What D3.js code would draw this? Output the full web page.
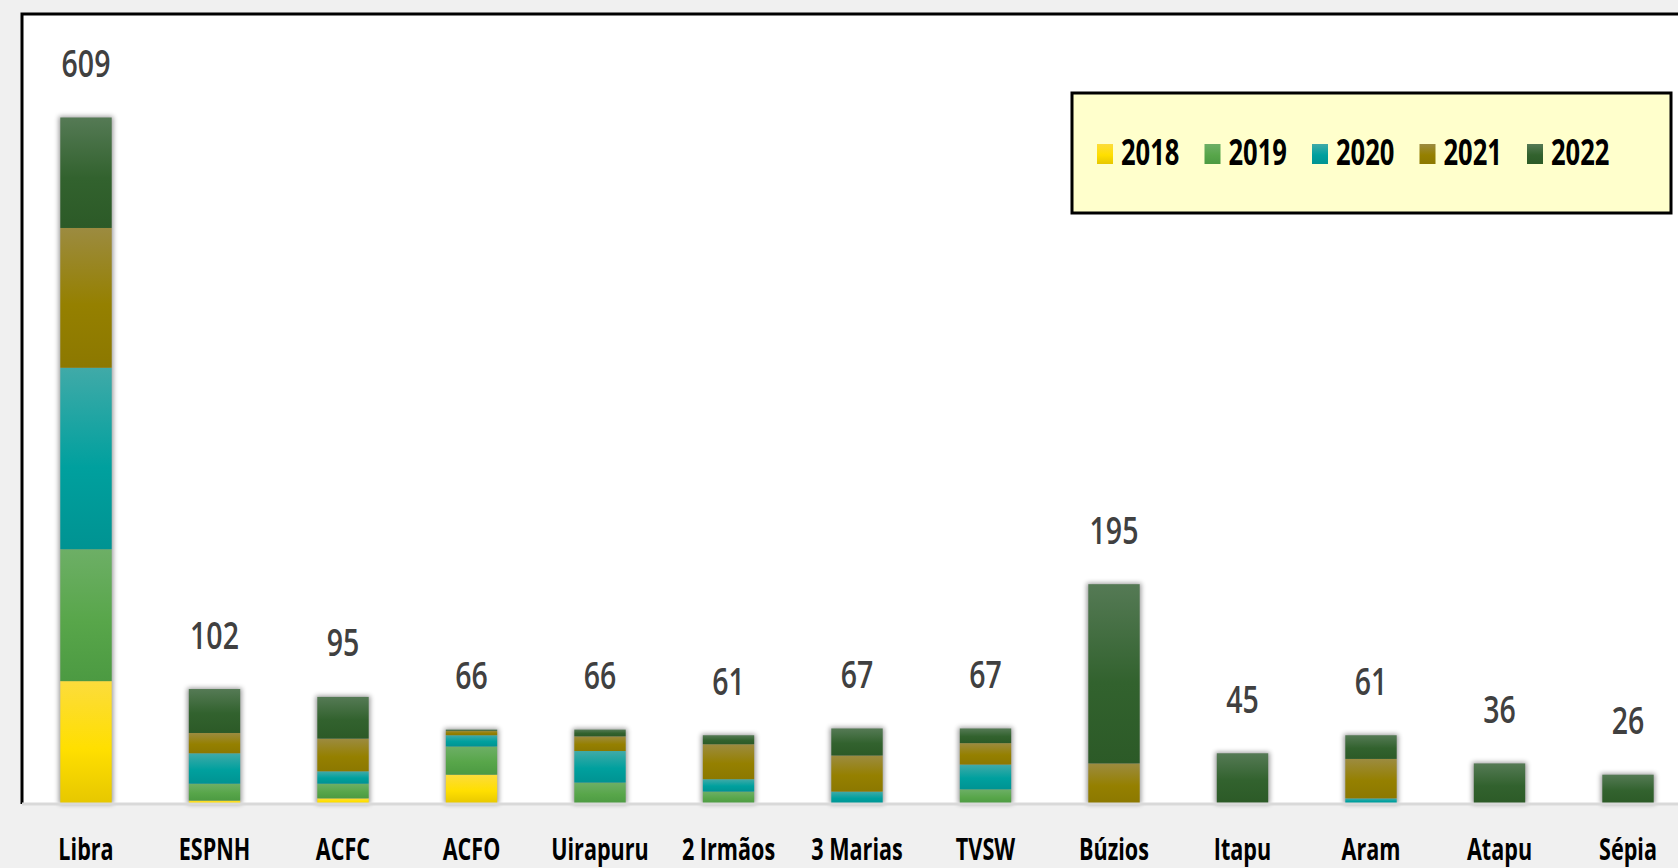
<!DOCTYPE html>
<html>
<head>
<meta charset="utf-8">
<script src="https://cdn.jsdelivr.net/npm/d3@7"></script>
<style>
html, body { margin: 0; padding: 0; background: #f0f0f0; overflow: hidden; }
text { font-family: "Open Sans", "Noto Sans", sans-serif; }
</style>
</head>
<body>
<div id="chart"></div>
<script>
// fields (x categories) and yearly counts
const fields = ["Libra", "ESPNH", "ACFC", "ACFO", "Uirapuru", "2 Irmãos", "3 Marias", "TVSW", "Búzios", "Itapu", "Aram", "Atapu", "Sépia"];
const years = ["2018", "2019", "2020", "2021", "2022"];
const v2018 = [109, 3, 5, 26, 0, 0, 0, 0, 0, 0, 0, 0, 0];
const v2019 = [117, 15, 13, 25, 19, 11, 0, 13, 0, 0, 0, 0, 0];
const v2020 = [161, 27, 11, 10, 28, 11, 11, 22, 0, 0, 5, 0, 0];
const v2021 = [124, 18, 29, 4, 13, 31, 32, 19, 36, 1, 35, 0, 0];
const v2022 = [98, 39, 37, 1, 6, 8, 24, 13, 159, 44, 21, 36, 26];

// gradient stops per year: top, middle, bottom
const palette = {
    "2018": ["#fcdc3c", "#ffdf00", "#e6c700"],
    "2019": ["#6daf66", "#58a64a", "#4c9a42"],
    "2020": ["#40aaa8", "#00a09e", "#009392"],
    "2021": ["#9c8b40", "#958000", "#8c7800"],
    "2022": ["#557a55", "#32622e", "#2c5a27"]
};

const width = 1678, height = 868;
const baseY = 804, topY = 117.5;
const plotLeft = 22, plotTop = 14;

const series = [v2018, v2019, v2020, v2021, v2022];
const rows = fields.map((f, i) => {
    const r = { field: f };
    years.forEach((y, k) => { r[y] = series[k][i]; });
    return r;
});
const totals = rows.map(r => d3.sum(years, y => r[y]));

const svg = d3.select("#chart").append("svg")
    .attr("width", width)
    .attr("height", height);

const defs = svg.append("defs");
years.forEach(y => {
    const g = defs.append("linearGradient")
        .attr("id", "grad" + y)
        .attr("x1", 0).attr("y1", 0).attr("x2", 0).attr("y2", 1);
    g.append("stop").attr("offset", "0%").attr("stop-color", palette[y][0]);
    g.append("stop").attr("offset", "55%").attr("stop-color", palette[y][1]);
    g.append("stop").attr("offset", "100%").attr("stop-color", palette[y][2]);
});
defs.append("filter").attr("id", "blur")
    .attr("x", "-50%").attr("y", "-50%").attr("width", "200%").attr("height", "200%")
    .append("feGaussianBlur").attr("stdDeviation", 2.5);

// plot area
svg.append("rect")
    .attr("x", plotLeft).attr("y", plotTop)
    .attr("width", width).attr("height", baseY - plotTop)
    .attr("fill", "#ffffff");
svg.append("path")
    .attr("d", `M${plotLeft},${baseY} V${plotTop} H${width + 5}`)
    .attr("fill", "none")
    .attr("stroke", "#000")
    .attr("stroke-width", 3);

const x = d3.scaleBand()
    .domain(fields)
    .range([21.75, 1692.25])
    .paddingInner(0.6)
    .paddingOuter(0.3);

const y = d3.scaleLinear()
    .domain([0, 609])
    .range([baseY, topY]);

const stack = d3.stack().keys(years);
const stacked = stack(rows);

// soft shadow behind each column
svg.append("g").selectAll("rect")
    .data(rows)
    .enter().append("rect")
    .attr("x", d => x(d.field) - 1.5)
    .attr("width", x.bandwidth() + 3)
    .attr("y", (d, i) => y(totals[i]) - 1)
    .attr("height", (d, i) => baseY - y(totals[i]) + 1)
    .attr("fill", "#000")
    .attr("opacity", 0.4)
    .attr("filter", "url(#blur)");

svg.append("g").selectAll("g")
    .data(stacked)
    .enter().append("g")
    .attr("fill", d => "url(#grad" + d.key + ")")
    .selectAll("rect")
    .data(d => d.filter(s => s[1] - s[0] > 0))
    .enter().append("rect")
    .attr("x", d => x(d.data.field))
    .attr("width", x.bandwidth())
    .attr("y", d => y(d[1]))
    .attr("height", d => y(d[0]) - y(d[1]));

// total labels
svg.append("g").selectAll("text")
    .data(rows)
    .enter().append("text")
    .attr("transform", (d, i) => `translate(${x(d.field) + x.bandwidth() / 2},${y(totals[i]) - 40.5}) scale(0.76,1)`)
    .attr("text-anchor", "middle")
    .attr("font-size", 37.5)
    .attr("font-weight", 600)
    .attr("fill", "#404040")
    .text((d, i) => totals[i]);

// x axis
const xAxis = d3.axisBottom(x).tickSize(0).tickPadding(0);
const xg = svg.append("g")
    .attr("transform", `translate(0,${baseY})`)
    .call(xAxis);
xg.select(".domain")
    .attr("d", `M${plotLeft},0 H${width + 5}`)
    .attr("stroke", "#d9d9d9")
    .attr("stroke-width", 3);
xg.selectAll(".tick text")
    .attr("y", null)
    .attr("dy", null)
    .attr("transform", "translate(0,56) scale(0.72,1)")
    .attr("font-size", 30)
    .attr("font-weight", "bold")
    .attr("fill", "#000");
xg.attr("font-family", null);

// legend
const legend = svg.append("g");
legend.append("rect")
    .attr("x", 1072).attr("y", 93)
    .attr("width", 599).attr("height", 120)
    .attr("fill", "#ffffcc")
    .attr("stroke", "#000")
    .attr("stroke-width", 3);
const item = legend.selectAll("g.item")
    .data(years)
    .enter().append("g")
    .attr("class", "item")
    .attr("transform", (d, i) => `translate(${1097 + i * 107.5},0)`);
item.append("rect")
    .attr("x", 0).attr("y", 144)
    .attr("width", 16).attr("height", 20)
    .attr("fill", d => "url(#grad" + d + ")");
item.append("text")
    .attr("transform", "translate(24,165) scale(0.73,1)")
    .attr("font-size", 35)
    .attr("font-weight", "bold")
    .attr("fill", "#000")
    .text(d => d);
</script>
</body>
</html>
